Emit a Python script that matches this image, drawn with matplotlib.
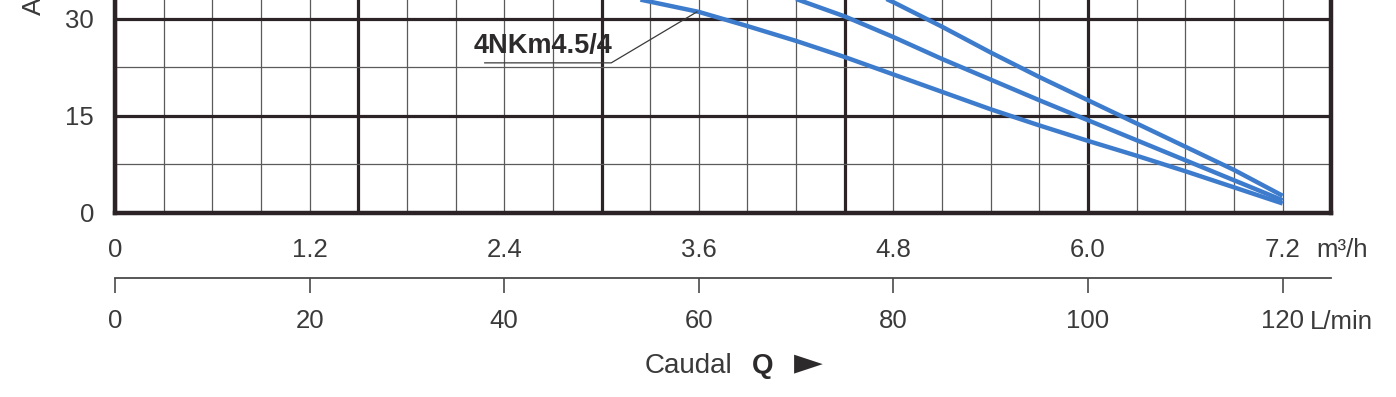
import matplotlib
matplotlib.use("Agg")
import matplotlib.pyplot as plt
import numpy as np

plt.rcParams['font.family'] = ['Liberation Sans', 'DejaVu Sans']

# ---- data (flow in L/min, head in m) ----
q_low = [54, 60, 65, 70, 75, 80, 85, 90, 95, 100, 105, 110, 115, 120]
h_low = [33.0, 31.1, 28.9, 26.6, 24.1, 21.4, 18.7, 16.0, 13.5, 11.1, 8.8, 6.4, 3.9, 1.4]

q_mid = [70, 75, 80, 85, 90, 95, 100, 105, 110, 115, 120]
h_mid = [33.1, 30.4, 27.2, 23.8, 20.6, 17.4, 14.3, 11.2, 8.1, 5.0, 1.9]

q_up = [79, 80, 85, 90, 95, 100, 105, 110, 115, 120]
h_up = [33.3, 32.6, 28.8, 24.8, 21.0, 17.4, 13.8, 10.2, 6.6, 2.6]

model_label = "4NKm4.5/4"
leader_q = [38.0, 51.0, 59.8]
leader_h = [23.2, 23.2, 31.1]

lmin_ticks = [0, 20, 40, 60, 80, 100, 120]
lmin_labels = ["0", "20", "40", "60", "80", "100", "120"]
m3h_ticks = [0, 1.2, 2.4, 3.6, 4.8, 6.0, 7.2]
m3h_labels = ["0", "1.2", "2.4", "3.6", "4.8", "6.0", "7.2"]
h_ticks = [0, 15, 30]

W, H = 1396, 397
fig = plt.figure(figsize=(W / 100, H / 100), dpi=100)
fig.patch.set_facecolor('white')

left = 115 / W
width = 1216.3 / W
bottom = (H - 212.5) / H
height = 258 / H
ax = fig.add_axes([left, bottom, width, height])

grid_dark = '#2b2325'
grid_thin = '#5a5a5a'
ax.set_xticks(np.arange(0, 126, 25))
ax.set_xticks(np.arange(0, 126, 5), minor=True)
ax.set_yticks(h_ticks)
ax.set_yticks(np.arange(0, 40, 7.5), minor=True)
ax.set_xlim(0, 125)
ax.set_ylim(0, 40)
ax.grid(which='major', color=grid_dark, linewidth=2.3)
ax.grid(which='minor', color=grid_thin, linewidth=0.9)
ax.set_axisbelow(True)
ax.tick_params(which='both', length=0)
ax.tick_params(axis='x', labelbottom=False)
ax.tick_params(axis='y', labelsize=18.5, labelcolor='#3a3a3a', pad=15)
ax.set_yticklabels([str(t) for t in h_ticks])
for s in ['left', 'bottom', 'right']:
    ax.spines[s].set_color(grid_dark)
    ax.spines[s].set_linewidth(3.2)
ax.spines['top'].set_visible(False)

blue = '#3d7ccc'
for q, h in [(q_low, h_low), (q_mid, h_mid), (q_up, h_up)]:
    ax.plot(q, h, color=blue, linewidth=3.2, solid_capstyle='butt', zorder=3)

ax.plot(leader_q, leader_h, color='#3a3a3a', linewidth=0.9, zorder=3)
ax.text(44.0, 24.7, model_label, ha='center', va='baseline', fontsize=19.5,
        fontweight='bold', color='#2d2a2c', zorder=4)

# m3/h scale right under the plot
sec = ax.secondary_xaxis('bottom', functions=(lambda q: np.asarray(q) * 0.06,
                                              lambda m: np.asarray(m) / 0.06))
sec.set_xticks(m3h_ticks)
sec.set_xticklabels(m3h_labels)
sec.spines['bottom'].set_visible(False)
sec.tick_params(length=0, pad=18.5, labelsize=18.5, labelcolor='#3a3a3a')

# L/min scale
ax2 = fig.add_axes([left, (H - 278) / H, width, 0.0001])
ax2.set_xlim(0, 125)
ax2.set_yticks([])
for s in ['left', 'right', 'top']:
    ax2.spines[s].set_visible(False)
ax2.spines['bottom'].set_color('#4a4a4a')
ax2.spines['bottom'].set_linewidth(1.3)
ax2.set_xticks(lmin_ticks)
ax2.set_xticklabels(lmin_labels)
ax2.tick_params(axis='x', direction='out', length=11, width=1.2, color='#4a4a4a',
                pad=11, labelsize=18.5, labelcolor='#3a3a3a')
ax2.patch.set_visible(False)

# unit labels
fig.text(1316 / W, (H - 257) / H, "m³/h", ha='left', va='baseline', fontsize=18.5, color='#3a3a3a')
fig.text(1310 / W, (H - 329) / H, "L/min", ha='left', va='baseline', fontsize=18.5, color='#3a3a3a')

# axis titles
fig.text(645 / W, (H - 373) / H, "Caudal", ha='left', va='baseline', fontsize=20, color='#3a3a3a')
fig.text(752 / W, (H - 373) / H, "Q", ha='left', va='baseline', fontsize=20,
         fontweight='bold', color='#2d2a2c')
fig.text(794 / W, (H - 363) / H, "►", ha='left', va='center', fontsize=27,
         color='#2d2a2c', family=['DejaVu Sans'])
fig.text(34 / W, (H - 15) / H, "Altura  H", rotation=90, ha='center', va='bottom',
         fontsize=19, color='#3a3a3a')

fig.savefig("out.png", dpi=100, facecolor='white')
